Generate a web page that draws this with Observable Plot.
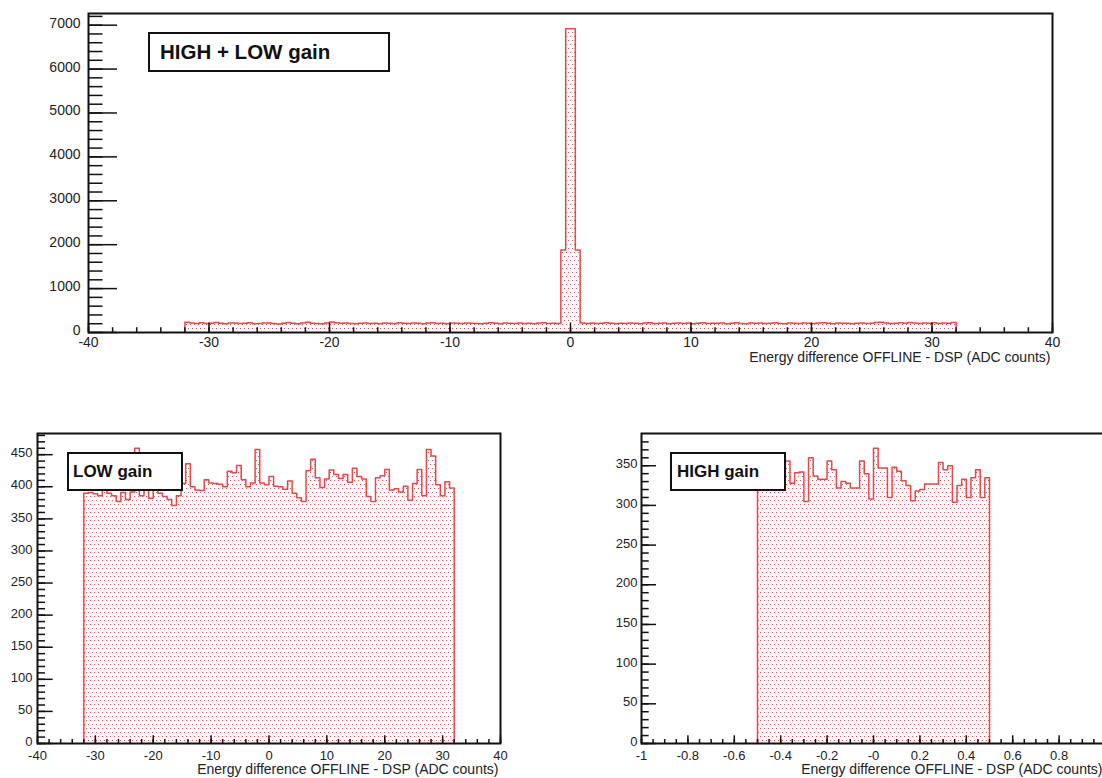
<!DOCTYPE html>
<html>
<head>
<meta charset="utf-8">
<script src="https://cdn.jsdelivr.net/npm/d3@7"></script>
<script src="https://cdn.jsdelivr.net/npm/@observablehq/plot@0.6"></script>
<style>
  html, body { margin: 0; padding: 0; width: 1102px; height: 778px; overflow: hidden; background: #fff; }
  .panel { position: absolute; }
  .tag {
    position: absolute; box-sizing: border-box; border: 2px solid #111; background: #fff;
    font-family: "Liberation Sans", Arial, Helvetica, sans-serif; font-weight: bold; color: #111;
    display: flex; align-items: center; white-space: nowrap;
  }
</style>
</head>
<body>
<svg width="0" height="0" style="position:absolute">
  <defs>
    <pattern id="dots" width="4" height="8" patternUnits="userSpaceOnUse">
      <rect x="0" y="0" width="1" height="1" fill="#e25555"></rect>
      <rect x="2" y="4" width="1" height="1" fill="#e25555"></rect>
    </pattern>
  </defs>
</svg>
<div id="combined" class="panel" style="left:0;top:0;width:1102px;height:370px"></div>
<div id="low" class="panel" style="left:0;top:420px;width:530px;height:358px"></div>
<div id="high" class="panel" style="left:590px;top:420px;width:530px;height:358px"></div>
<div class="tag" style="left:148px;top:32px;width:242px;height:40px;padding-left:10px;font-size:20.5px">HIGH + LOW gain</div>
<div class="tag" style="left:67px;top:452px;width:116px;height:39px;padding-left:4px;font-size:17px">LOW gain</div>
<div class="tag" style="left:670px;top:452px;width:116px;height:39px;padding-left:5px;font-size:17px">HIGH gain</div>
<script>
// Energy difference OFFLINE - DSP, bin contents per histogram

// HIGH + LOW gain: 160 bins of 0.4 ADC counts starting at -32
const combinedStart = -32;
const combinedBinWidth = 0.4;
const combinedCounts = [
  232, 218, 206, 221, 204, 212, 225, 208, 199, 214,
  217, 203, 210, 222, 198, 207, 214, 219, 205, 196,
  211, 226, 208, 202, 217, 231, 213, 205, 199, 215,
  238, 224, 209, 216, 203, 198, 212, 219, 207, 213,
  202, 215, 208, 197, 221, 212, 204, 218, 209, 201,
  214, 223, 206, 211, 199, 216, 208, 203, 219, 212,
  205, 197, 213, 220, 209, 202, 216, 211, 204, 218,
  207, 213, 199, 215, 222, 206, 210, 203, 1880, 6920,
  6920, 1880, 214, 207, 219, 203, 211, 224, 208, 200,
  213, 206, 218, 210, 197, 215, 222, 204, 209, 216,
  201, 212, 219, 207, 214, 198, 210, 221, 205, 213,
  208, 216, 202, 211, 223, 206, 199, 214, 209, 217,
  204, 212, 220, 207, 198, 215, 210, 203, 218, 211,
  206, 214, 221, 209, 202, 216, 208, 213, 199, 212,
  218, 207, 213, 225, 236, 219, 204, 211, 222, 208,
  229, 214, 203, 217, 209, 221, 206, 215, 212, 226
];

// LOW gain: 80 bins of 0.8 ADC counts starting at -32
const lowStart = -32;
const lowBinWidth = 0.8;
const lowCounts = [
  390, 391, 389, 386, 395, 390, 386, 377, 391, 380,
  392, 460, 386, 398, 382, 400, 390, 385, 380, 371,
  386, 405, 436, 400, 395, 394, 411, 406, 405, 404,
  400, 424, 422, 433, 411, 400, 406, 458, 406, 403,
  416, 401, 400, 396, 409, 390, 383, 377, 425, 443,
  414, 399, 412, 426, 419, 413, 419, 407, 429, 416,
  412, 385, 377, 414, 417, 427, 395, 397, 392, 401,
  379, 405, 427, 386, 458, 448, 403, 386, 408, 398
];

// HIGH gain: 50 bins of 0.02 ADC counts starting at -0.5
const highStart = -0.5;
const highBinWidth = 0.02;
const highCounts = [
  345, 338, 352, 330, 341, 349, 356, 328, 341, 342,
  305, 360, 337, 333, 333, 356, 345, 322, 330, 328,
  322, 322, 356, 340, 308, 372, 347, 347, 310, 348,
  343, 331, 325, 306, 318, 320, 327, 327, 327, 354,
  345, 350, 304, 325, 333, 310, 335, 345, 310, 335
];

// Axis ticks and their labels
const wideXMajor = [-40, -30, -20, -10, 0, 10, 20, 30, 40];
const wideXLabels = ["-40", "-30", "-20", "-10", "0", "10", "20", "30", "40"];
const highXMajor = [-1, -0.8, -0.6, -0.4, -0.2, 0, 0.2, 0.4, 0.6, 0.8, 1];
const highXLabels = ["-1", "-0.8", "-0.6", "-0.4", "-0.2", "-0", "0.2", "0.4", "0.6", "0.8", "1"];
const combinedYMajor = [0, 1000, 2000, 3000, 4000, 5000, 6000, 7000];
const combinedYLabels = ["0", "1000", "2000", "3000", "4000", "5000", "6000", "7000"];
const lowYMajor = [0, 50, 100, 150, 200, 250, 300, 350, 400, 450];
const lowYLabels = ["0", "50", "100", "150", "200", "250", "300", "350", "400", "450"];
const highYMajor = [0, 50, 100, 150, 200, 250, 300, 350];
const highYLabels = ["0", "50", "100", "150", "200", "250", "300", "350"];

const axisTitle = "Energy difference OFFLINE - DSP (ADC counts)";

const FONT = '"Liberation Sans", Arial, Helvetica, sans-serif';
const LINE_RED = "#e04a4a";
const INK = "#111";

// step outline and fill points for a fixed-width histogram
function fillPoints(counts, start, width) {
  const pts = counts.map((c, i) => ({x: start + i * width, y: c}));
  pts.push({x: start + counts.length * width, y: counts[counts.length - 1]});
  return pts;
}
function outlinePoints(counts, start, width) {
  const end = start + counts.length * width;
  return [{x: start, y: 0}, ...fillPoints(counts, start, width), {x: end, y: 0}];
}

function histogramPanel(el, cfg) {
  const [mt, mr, mb, ml] = cfg.margin;
  const innerW = cfg.width - ml - mr;
  const innerH = cfg.height - mt - mb;
  const ymax = 1.05 * d3.max(cfg.counts);
  const xLab = new Map(cfg.xMajor.map((v, i) => [v, cfg.xLabels[i]]));
  const yLab = new Map(cfg.yMajor.map((v, i) => [v, cfg.yLabels[i]]));
  const tick = {stroke: INK, strokeWidth: 1.5};
  const chart = Plot.plot({
    width: cfg.width,
    height: cfg.height,
    marginTop: mt, marginRight: mr, marginBottom: mb, marginLeft: ml,
    x: {domain: cfg.xDomain, label: null},
    y: {domain: [0, ymax], label: null},
    style: {
      fontFamily: FONT, fontSize: cfg.fontSize + "px", color: "#222",
      maxWidth: "none", overflow: "visible", background: "transparent"
    },
    marks: [
      Plot.areaY(fillPoints(cfg.counts, cfg.start, cfg.binWidth),
        {x: "x", y: "y", curve: "step-after", fill: "url(#dots)"}),
      Plot.line(outlinePoints(cfg.counts, cfg.start, cfg.binWidth),
        {x: "x", y: "y", curve: "step-after", stroke: LINE_RED, strokeWidth: 1.5}),
      Plot.ruleX(cfg.xMinor, {...tick, insetTop: innerH - cfg.tickLen.xMin}),
      Plot.ruleX(cfg.xMajor, {...tick, insetTop: innerH - cfg.tickLen.xMaj}),
      Plot.ruleY(cfg.yMinor, {...tick, insetRight: innerW - cfg.tickLen.yMin}),
      Plot.ruleY(cfg.yMajor, {...tick, insetRight: innerW - cfg.tickLen.yMaj}),
      Plot.axisX(cfg.xMajor, {tickSize: 0, tickPadding: cfg.xPad, tickFormat: d => xLab.get(d), fill: "#222"}),
      Plot.axisY(cfg.yMajor, {tickSize: 0, tickPadding: cfg.yPad, dy: cfg.yDy, tickFormat: d => yLab.get(d), fill: "#222"}),
      Plot.frame({stroke: INK, strokeWidth: 2}),
      Plot.text([axisTitle], {
        frameAnchor: "bottom-right", text: d => d, textAnchor: "end",
        dx: cfg.titleDx, dy: cfg.titleDy, fontSize: 14, fill: "#222"
      })
    ]
  });
  el.append(chart);
}

histogramPanel(document.getElementById("combined"), {
  counts: combinedCounts, start: combinedStart, binWidth: combinedBinWidth,
  width: 1102, height: 370, margin: [13, 50, 38, 88],
  xDomain: [-40, 40],
  xMajor: wideXMajor, xLabels: wideXLabels, xMinor: d3.range(-40, 40.001, 2),
  yMajor: combinedYMajor, yLabels: combinedYLabels, yMinor: d3.range(0, 7201, 200),
  tickLen: {xMaj: 9.5, xMin: 4.8, yMaj: 29, yMin: 14.5},
  fontSize: 14, xPad: 5, yPad: 8, yDy: -2, titleDx: -2, titleDy: 29
});

histogramPanel(document.getElementById("low"), {
  counts: lowCounts, start: lowStart, binWidth: lowBinWidth,
  width: 530, height: 358, margin: [13, 30, 35, 37],
  xDomain: [-40, 40],
  xMajor: wideXMajor, xLabels: wideXLabels, xMinor: d3.range(-40, 40.001, 2),
  yMajor: lowYMajor, yLabels: lowYLabels, yMinor: d3.range(0, 481, 10),
  tickLen: {xMaj: 7.7, xMin: 4, yMaj: 15.7, yMin: 8},
  fontSize: 13, xPad: 7, yPad: 5, yDy: -1.5, titleDx: -2, titleDy: 30.5
});

histogramPanel(document.getElementById("high"), {
  counts: highCounts, start: highStart, binWidth: highBinWidth,
  width: 530, height: 358, margin: [13, 15, 35, 51],
  xDomain: [-1, 1],
  xMajor: highXMajor, xLabels: highXLabels, xMinor: d3.range(-1, 1.0001, 0.05),
  yMajor: highYMajor, yLabels: highYLabels, yMinor: d3.range(0, 381, 10),
  tickLen: {xMaj: 7.7, xMin: 4, yMaj: 15, yMin: 7.7},
  fontSize: 13, xPad: 7, yPad: 4, yDy: -1.5, titleDx: -3, titleDy: 30.5
});
</script>
</body>
</html>
